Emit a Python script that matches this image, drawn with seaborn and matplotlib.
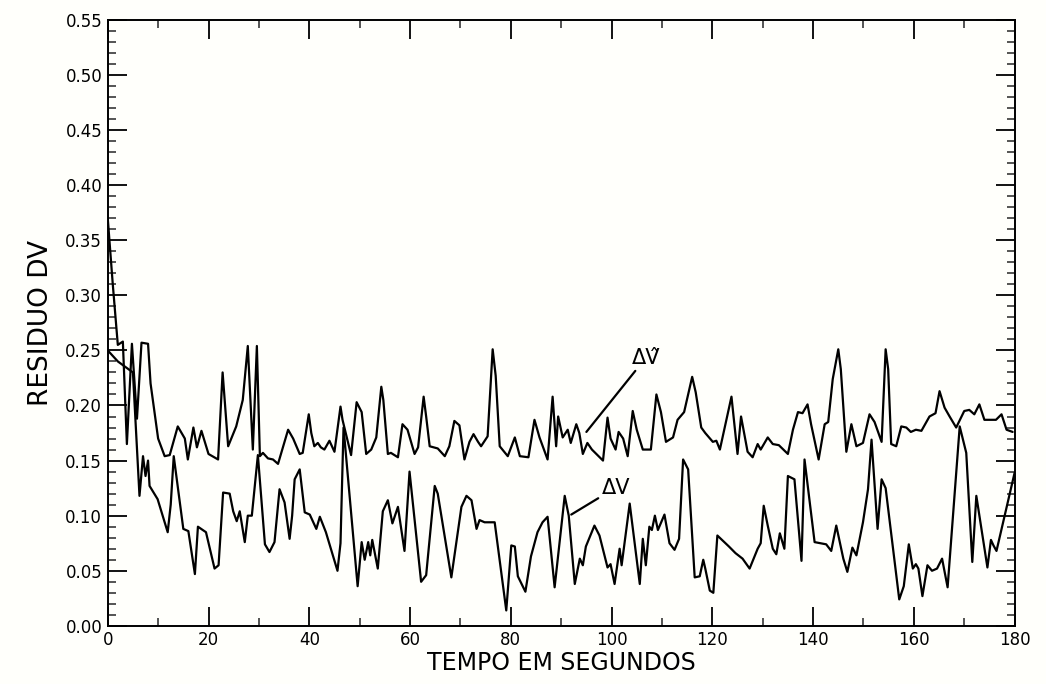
import matplotlib
matplotlib.use("Agg")
import matplotlib.pyplot as plt
import seaborn as sns
import pandas as pd
from matplotlib.ticker import MultipleLocator, FormatStrFormatter

# ---- data ----
t_hat = [0, 1, 2, 3, 3.8, 4.8, 5.8, 6.7, 8, 8.5, 10, 11.3, 12.3, 13.9, 15.3, 15.9, 17, 17.7, 18.6, 20,
         21.9, 22.8, 23.9, 25.5, 26.8, 27.8, 28.8, 29.6, 30.2, 30.8, 31.8, 32.8, 33.8, 35.8, 36.8, 38.1,
         38.7, 39.9, 40.4, 41, 41.7, 42.3, 43, 44, 45, 46.2, 46.6, 47.5, 48.3, 49.4, 50.4, 51.3, 52.3,
         53.3, 54.3, 54.7, 55.6, 56.2, 57.6, 58.5, 59.5, 60.9, 61.6, 62.7, 63.2, 63.9, 65.5, 66.9, 67.8,
         68.8, 69.8, 70.8, 71.8, 72.6, 73.5, 74.1, 75.4, 76.4, 77, 77.8, 79.4, 80.8, 81.8, 83.5, 84.7,
         85.7, 87.3, 88.3, 89, 89.4, 90.3, 91.3, 91.9, 93, 93.6, 94.3, 95.2, 96.1, 98.3, 99.2, 99.8,
         100.8, 101.4, 102.3, 103.2, 104.2, 105, 106.2, 107.8, 108.9, 109.8, 110.8, 112.2, 113.1, 114.4,
         116, 116.7, 117.8, 118.6, 120.1, 120.8, 121.5, 123.8, 125, 125.7, 126.3, 127, 128, 129, 129.6,
         131, 132, 133.2, 135, 136, 137, 137.9, 138.9, 139.6, 141.1, 142.3, 143, 143.9, 145, 145.5,
         146.6, 147.6, 148.6, 149.9, 151.2, 152.2, 153.6, 154.4, 154.9, 155.5, 156.5, 157.5, 158.5,
         159.4, 160.4, 161.5, 163.1, 164.3, 165.1, 166.1, 167.1, 168.4, 170, 171, 172, 173, 174, 175.3,
         176.3, 177.4, 178.4, 179.6]
dv_hat = [0.37, 0.31, 0.255, 0.258, 0.165, 0.256, 0.188, 0.257, 0.256, 0.22, 0.17, 0.154, 0.155, 0.181,
          0.17, 0.151, 0.18, 0.162, 0.177, 0.156, 0.151, 0.23, 0.163, 0.181, 0.205, 0.254, 0.16, 0.254,
          0.154, 0.157, 0.152, 0.151, 0.147, 0.178, 0.17, 0.156, 0.157, 0.192, 0.175, 0.163, 0.166,
          0.162, 0.16, 0.168, 0.158, 0.199, 0.187, 0.17, 0.155, 0.203, 0.194, 0.156, 0.16, 0.171, 0.217,
          0.205, 0.156, 0.157, 0.153, 0.183, 0.178, 0.156, 0.162, 0.208, 0.19, 0.163, 0.161, 0.154,
          0.163, 0.186, 0.182, 0.151, 0.167, 0.174, 0.167, 0.163, 0.172, 0.251, 0.227, 0.163, 0.154,
          0.171, 0.154, 0.153, 0.187, 0.171, 0.151, 0.208, 0.163, 0.19, 0.171, 0.178, 0.166, 0.183,
          0.175, 0.156, 0.166, 0.16, 0.15, 0.189, 0.17, 0.16, 0.176, 0.17, 0.154, 0.195, 0.178, 0.16,
          0.16, 0.21, 0.194, 0.167, 0.171, 0.187, 0.194, 0.226, 0.212, 0.18, 0.175, 0.167, 0.168, 0.16,
          0.208, 0.156, 0.19, 0.175, 0.158, 0.153, 0.165, 0.16, 0.171, 0.165, 0.164, 0.156, 0.178,
          0.194, 0.193, 0.201, 0.183, 0.151, 0.183, 0.185, 0.224, 0.251, 0.233, 0.158, 0.183, 0.163,
          0.166, 0.192, 0.185, 0.167, 0.251, 0.233, 0.165, 0.163, 0.181, 0.18, 0.176, 0.178, 0.177,
          0.19, 0.193, 0.213, 0.198, 0.19, 0.18, 0.195, 0.196, 0.192, 0.201, 0.187, 0.187, 0.187, 0.192,
          0.178, 0.176]

t_dv = [0, 2, 5, 6.3, 7, 7.5, 8, 8.3, 9.9, 10.7, 11.9, 12.5, 13.1, 15, 16, 17.3, 17.9, 19.5, 21.2, 22,
        22.9, 24.2, 24.9, 25.6, 26.2, 27.2, 27.8, 28.6, 29.8, 31.2, 32.1, 33.1, 34.1, 35.1, 36.1, 36.6,
        37.1, 38.1, 39.1, 40.1, 41.4, 42.1, 43.3, 45.6, 46.2, 46.8, 49.6, 50.4, 51, 51.7, 52.1, 52.5,
        53.6, 54.6, 55.6, 56.5, 57.6, 58.9, 59.9, 62.2, 63.2, 64.9, 65.5, 68.2, 70.2, 71.2, 72.2, 73.2,
        73.8, 74.8, 76.8, 79.1, 80.1, 80.8, 81.4, 82.9, 84, 85.3, 86.3, 87.3, 88.7, 90.7, 91.5, 92.7,
        93.7, 94.3, 94.9, 96.6, 97.6, 99.2, 99.8, 100.6, 101.6, 102, 103.6, 105.6, 106.2, 106.8, 107.5,
        108, 108.6, 109.2, 110.5, 111.5, 112.5, 113.4, 114.2, 115.2, 116.5, 117.5, 118.2, 118.6, 119.5,
        120.2, 121, 123.3, 124.6, 126, 127.4, 129, 129.6, 130.2, 131, 132, 132.7, 133.4, 134.3, 135,
        136.3, 137.7, 138.3, 140.3, 142.6, 143.6, 144.6, 146, 146.8, 147.8, 148.6, 149.9, 150.9, 151.6,
        152.8, 153.6, 154.4, 157.1, 158, 159, 159.8, 160.4, 160.9, 161.7, 162.7, 163.6, 164.6, 165.6,
        166.7, 169.1, 170.4, 171.6, 172.4, 174.6, 175.3, 175.8, 176.4, 180]
dv = [0.25, 0.24, 0.23, 0.118, 0.154, 0.136, 0.15, 0.127, 0.115, 0.103, 0.085, 0.11, 0.154, 0.088, 0.086,
      0.047, 0.09, 0.085, 0.052, 0.055, 0.121, 0.12, 0.104, 0.095, 0.104, 0.076, 0.1, 0.1, 0.155, 0.074,
      0.067, 0.076, 0.124, 0.112, 0.079, 0.1, 0.133, 0.142, 0.103, 0.101, 0.088, 0.099, 0.085, 0.05,
      0.075, 0.18, 0.036, 0.076, 0.06, 0.076, 0.064, 0.078, 0.052, 0.104, 0.114, 0.093, 0.108, 0.068,
      0.14, 0.04, 0.046, 0.127, 0.12, 0.044, 0.108, 0.118, 0.114, 0.088, 0.096, 0.094, 0.094, 0.014,
      0.073, 0.072, 0.045, 0.031, 0.063, 0.085, 0.094, 0.099, 0.035, 0.118, 0.1, 0.038, 0.061, 0.055,
      0.072, 0.091, 0.082, 0.053, 0.056, 0.038, 0.07, 0.055, 0.111, 0.038, 0.079, 0.055, 0.09, 0.087,
      0.1, 0.087, 0.101, 0.075, 0.069, 0.079, 0.151, 0.142, 0.044, 0.045, 0.06, 0.052, 0.032, 0.03,
      0.082, 0.072, 0.066, 0.061, 0.052, 0.07, 0.075, 0.109, 0.091, 0.07, 0.065, 0.084, 0.07, 0.136,
      0.133, 0.059, 0.151, 0.076, 0.074, 0.068, 0.091, 0.061, 0.049, 0.071, 0.064, 0.094, 0.124,
      0.169, 0.088, 0.133, 0.125, 0.024, 0.036, 0.074, 0.052, 0.056, 0.052, 0.027, 0.055, 0.05, 0.052,
      0.061, 0.035, 0.181, 0.157, 0.058, 0.118, 0.053, 0.078, 0.073, 0.068, 0.139]

x_ticks = [0, 20, 40, 60, 80, 100, 120, 140, 160, 180]
y_ticks = [0.00, 0.05, 0.10, 0.15, 0.20, 0.25, 0.30, 0.35, 0.40, 0.45, 0.50, 0.55]
x_label = "TEMPO EM SEGUNDOS"
y_label = "RESIDUO DV"
label_hat = "\u0394V\u0302"
label_dv = "\u0394V"

sns.set_theme(style="ticks")
plt.rcParams["font.family"] = ["DejaVu Sans"]

fig = plt.figure(figsize=(10.46, 6.84), dpi=100)
fig.patch.set_facecolor("#fffffb")
ax = fig.add_axes([0.103, 0.085, 0.867, 0.886])
ax.set_facecolor("#fffffb")

df_hat = pd.DataFrame({"t": t_hat, "v": dv_hat})
df_dv = pd.DataFrame({"t": t_dv, "v": dv})
sns.lineplot(data=df_hat, x="t", y="v", ax=ax, color="black", lw=1.6, estimator=None, sort=False)
sns.lineplot(data=df_dv, x="t", y="v", ax=ax, color="black", lw=1.6, estimator=None, sort=False)

ax.set_xlim(0, 180)
ax.set_ylim(0, 0.55)
ax.set_xticks(x_ticks)
ax.set_yticks(y_ticks)
ax.xaxis.set_minor_locator(MultipleLocator(10))
ax.yaxis.set_minor_locator(MultipleLocator(0.01))
ax.yaxis.set_major_formatter(FormatStrFormatter("%.2f"))
ax.tick_params(which="major", direction="in", length=14, width=1.3, top=True, right=True,
               labelsize=12, pad=4, colors="black", labelcolor="black")
ax.tick_params(which="minor", direction="in", length=6, width=1.1, top=True, right=True)
for s in ax.spines.values():
    s.set_linewidth(1.4)
    s.set_color("black")

ax.set_xlabel(x_label, fontsize=17, labelpad=1, color="black")
ax.set_ylabel(y_label, fontsize=19, labelpad=8, color="black")

# annotations
ax.annotate(label_hat, xy=(95, 0.176), xytext=(104, 0.238), fontsize=15, color="black",
            arrowprops=dict(arrowstyle="-", color="black", lw=1.6, shrinkA=0, shrinkB=0))
ax.annotate(label_dv, xy=(92, 0.101), xytext=(98, 0.12), fontsize=15, color="black",
            arrowprops=dict(arrowstyle="-", color="black", lw=1.6, shrinkA=0, shrinkB=0))

fig.savefig("out.png", dpi=100, facecolor=fig.get_facecolor())
